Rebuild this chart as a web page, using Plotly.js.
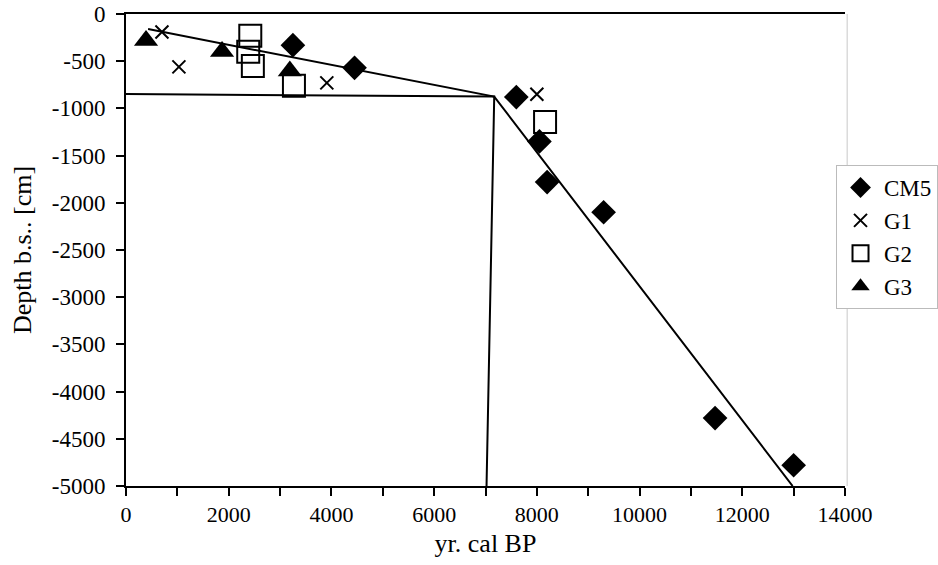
<!DOCTYPE html>
<html>
<head>
<meta charset="utf-8">
<script src="https://cdn.plot.ly/plotly-3.0.1.min.js"></script>
<style>
html,body{margin:0;padding:0;background:#fff;}
#chart{width:938px;height:565px;}
</style>
</head>
<body>
<div id="chart"></div>
<script>
// Data
const cm5Age = [3250, 4450, 7600, 8050, 8200, 9300, 11470, 13000];
const cm5Depth = [-330, -570, -880, -1350, -1780, -2100, -4280, -4780];
const g1Age = [700, 1030, 3910, 8000];
const g1Depth = [-190, -560, -730, -850];
const g2Age = [2420, 2380, 2470, 3270, 8160];
const g2Depth = [-230, -400, -550, -760, -1145];
const g3Age = [390, 1870, 3190];
const g3Depth = [-280, -397, -604];
// age-depth model lines
const fitAge = [430, 7170, 12980];
const fitDepth = [-160, -875, -5000];
const boxAge = [0, 7170, 7020];
const boxDepth = [-847, -875, -5000];
const yTickVals = [0, -500, -1000, -1500, -2000, -2500, -3000, -3500, -4000, -4500, -5000];
const yTickText = ['0', '-500', '-1000', '-1500', '-2000', '-2500', '-3000', '-3500', '-4000', '-4500', '-5000'];

const FONT = 'Liberation Serif';

const traces = [
  {x: fitAge, y: fitDepth, mode: 'lines', line: {color: '#000', width: 2}, showlegend: false, hoverinfo: 'skip'},
  {x: boxAge, y: boxDepth, mode: 'lines', line: {color: '#000', width: 2}, showlegend: false, hoverinfo: 'skip'},
  {x: cm5Age, y: cm5Depth, name: 'CM5', mode: 'markers', marker: {symbol: 'diamond', size: 19, color: '#000'}},
  {x: g1Age, y: g1Depth, name: 'G1', mode: 'markers', marker: {symbol: 'x-thin-open', size: 13, color: '#000', line: {color: '#000', width: 2}}},
  {x: g2Age, y: g2Depth, name: 'G2', mode: 'markers', marker: {symbol: 'square-open', size: 22, color: '#000', line: {color: '#000', width: 2}}},
  {x: g3Age, y: g3Depth, name: 'G3', mode: 'markers', marker: {symbol: 'triangle-up', size: 21, color: '#000'}}
];

const layout = {
  width: 938, height: 565,
  margin: {l: 126, r: 93, t: 14, b: 79, pad: 0, autoexpand: false},
  paper_bgcolor: '#fff', plot_bgcolor: '#fff',
  font: {family: FONT, color: '#000', size: 22},
  showlegend: true,
  legend: {x: 0.9875, y: 0.68, xanchor: 'left', yanchor: 'top', bordercolor: '#bbbbbb', borderwidth: 1,
           itemwidth: 37, bgcolor: '#fff', font: {family: FONT, size: 23, color: '#000'}},
  xaxis: {
    range: [0, 14000], showgrid: false, zeroline: false,
    showline: true, linecolor: '#000', linewidth: 2, mirror: true,
    ticks: 'outside', ticklen: 8, tickwidth: 2, tickcolor: '#000', dtick: 2000, tick0: 0,
    tickformat: 'd', exponentformat: 'none',
    minor: {dtick: 1000, ticks: 'outside', ticklen: 8, tickwidth: 2, tickcolor: '#000', showgrid: false},
    tickfont: {family: FONT, size: 22, color: '#000'},
    title: {text: 'yr. cal BP', font: {family: FONT, size: 26, color: '#000'}, standoff: 7}
  },
  yaxis: {
    range: [-5000, 0], showgrid: false, zeroline: false,
    showline: true, linecolor: '#000', linewidth: 2,
    ticks: 'outside', ticklen: 8, tickwidth: 2, tickcolor: '#000',
    tickmode: 'array', tickvals: yTickVals, ticktext: yTickText,
    ticklabelstandoff: 6,
    tickfont: {family: FONT, size: 23, color: '#000'},
    title: {text: 'Depth b.s.. [cm]', font: {family: FONT, size: 26, color: '#000'}, standoff: 13}
  },
  shapes: [
    {type: 'line', xref: 'paper', yref: 'paper', x0: 1.003, x1: 1.003, y0: 0, y1: 1, line: {color: '#c8c8c8', width: 1}, layer: 'below'}
  ]
};

Plotly.newPlot('chart', traces, layout, {displayModeBar: false, staticPlot: true});
</script>
</body>
</html>
